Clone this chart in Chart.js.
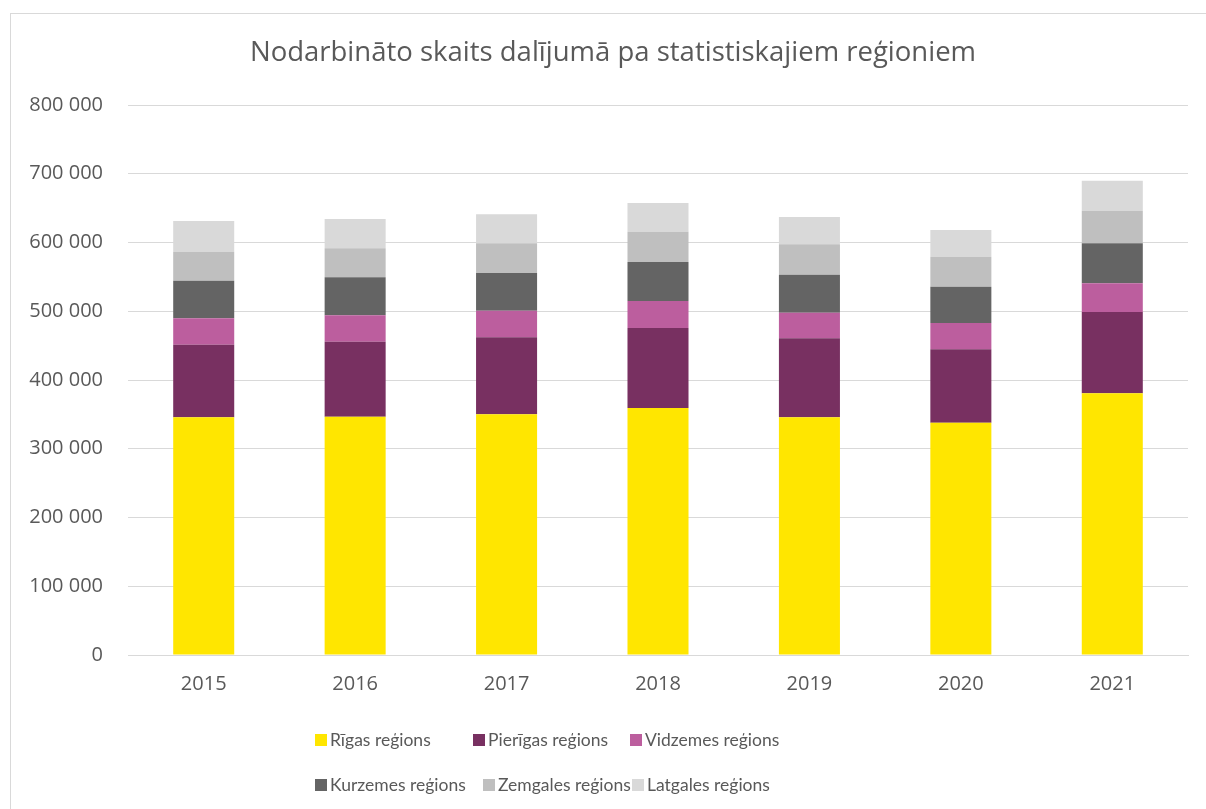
<!DOCTYPE html>
<html>
<head>
<meta charset="utf-8">
<script src="https://cdn.jsdelivr.net/npm/chart.js@4"></script>
<style>
    body { margin: 0; background: #fff; overflow: hidden; }
    .frame { position: absolute; left: 10px; top: 13px; width: 1206px; height: 809px; border: 1px solid #d9d9d9; }
    #chart { position: absolute; left: 0; top: 0; }
</style>
</head>
<body>
<div class="frame"></div>
<canvas id="chart" width="1206" height="809"></canvas>
<script>
// Data
const years = ['2015', '2016', '2017', '2018', '2019', '2020', '2021'];
const regionNames = ['Rīgas reģions', 'Pierīgas reģions', 'Vidzemes reģions',
    'Kurzemes reģions', 'Zemgales reģions', 'Latgales reģions'];
const riga = [345700, 346600, 350100, 359300, 345700, 337900, 380700];
const pieriga = [105600, 109100, 112000, 116300, 115000, 106800, 118200];
const vidzeme = [38400, 38400, 38700, 39300, 37200, 38200, 41800];
const kurzeme = [54700, 55300, 54800, 56700, 55300, 52800, 58100];
const zemgale = [42200, 42200, 43200, 44200, 44200, 43600, 47500];
const latgale = [44700, 42600, 42200, 41700, 39700, 38900, 43700];

const colors = ['#FFE600', '#783061', '#BC5E9E', '#646464', '#BFBFBF', '#D9D9D9'];
const textColor = '#595959';
const fontFamily = '"Open Sans", sans-serif';
const legendFont = 'Lato, "Open Sans", sans-serif';

// thousands with a space, like "800 000"
function formatNumber(v) {
    return String(v).replace(/\B(?=(\d{3})+(?!\d))/g, ' ');
}

// Legend drawn in two rows of three, like the original
const rowLegend = {
    id: 'rowLegend',
    afterLayout(chart) {
        // centre the title on the framed area rather than the plot
        const t = chart.titleBlock;
        if (t) { t.left += 19; t.right += 19; }
    },
    afterDraw(chart, args, opts) {
        const ctx = chart.ctx;
        ctx.save();
        ctx.font = opts.fontSize + 'px ' + legendFont;
        ctx.textBaseline = 'middle';
        chart.data.datasets.forEach((ds, i) => {
            const row = Math.floor(i / 3);
            const x = opts.rowsX[row][i % 3];
            const y = opts.rowsY[row];
            ctx.fillStyle = ds.backgroundColor;
            ctx.fillRect(x, y - 6, 12, 12);
            ctx.fillStyle = textColor;
            ctx.fillText(ds.label, x + 15, y);
        });
        ctx.restore();
    }
};

const seriesValues = [riga, pieriga, vidzeme, kurzeme, zemgale, latgale];

new Chart(document.getElementById('chart').getContext('2d'), {
    type: 'bar',
    data: {
        labels: years,
        datasets: seriesValues.map((values, i) => ({
            label: regionNames[i],
            data: values,
            backgroundColor: colors[i],
            borderWidth: 0,
            barPercentage: 0.403,
            categoryPercentage: 1
        }))
    },
    options: {
        responsive: false,
        animation: false,
        layout: { padding: { left: 0, right: 18, top: 0, bottom: 114 } },
        plugins: {
            legend: { display: false },
            tooltip: { enabled: false },
            title: {
                display: true,
                text: 'Nodarbināto skaits dalījumā pa statistiskajiem reģioniem',
                color: textColor,
                font: { family: fontFamily, size: 27.5, weight: 'normal', lineHeight: 1.2 },
                padding: { top: 37, bottom: 35 }
            },
            rowLegend: {
                fontSize: 17.5,
                rowsX: [[315, 473, 630], [315, 483, 632]],
                rowsY: [740, 785]
            }
        },
        scales: {
            x: {
                stacked: true,
                grid: { display: false, drawTicks: false },
                border: { display: true, color: '#d9d9d9' },
                ticks: { color: textColor, font: { family: fontFamily, size: 20 }, padding: 17 },
                afterFit(scale) { scale.height = 40; }
            },
            y: {
                stacked: true,
                min: 0,
                max: 800000,
                ticks: {
                    stepSize: 100000,
                    color: textColor,
                    font: { family: fontFamily, size: 20 },
                    padding: 25,
                    callback: v => formatNumber(v)
                },
                grid: { color: '#d9d9d9', lineWidth: 1, drawTicks: false },
                border: { display: false },
                afterFit(scale) { scale.width = 128; }
            }
        }
    },
    plugins: [rowLegend]
});
</script>
</body>
</html>
